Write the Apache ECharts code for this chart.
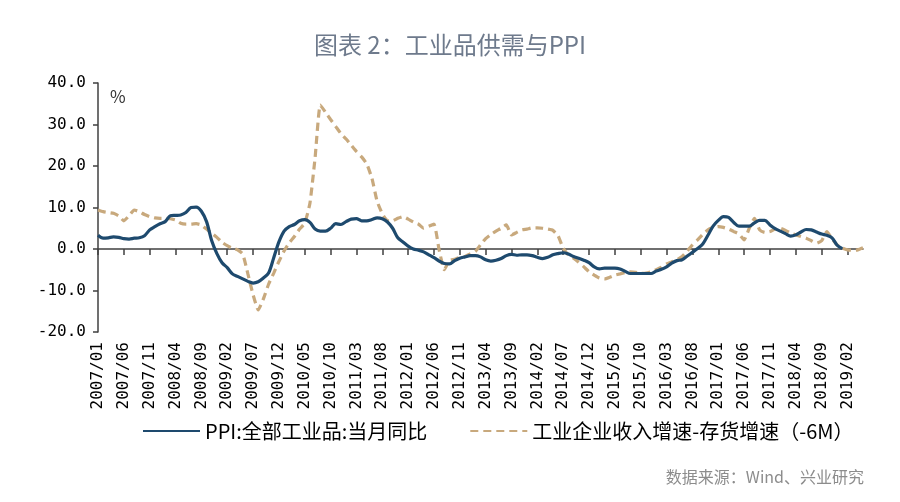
<!DOCTYPE html>
<html>
<head>
<meta charset="utf-8">
<script src="https://cdn.jsdelivr.net/npm/echarts@6/dist/echarts.min.js"></script>
<style>
html,body{margin:0;padding:0;background:#fff;}
#chart{width:900px;height:502px;}
</style>
</head>
<body>
<div id="chart"></div>
<script>
// Categories: monthly 2007/01 .. 2019/05
const startYear = 2007, monthsCount = 149;
const categories = [];
for (let i = 0; i < monthsCount; i++) {
  const y = startYear + Math.floor(i / 12), m = (i % 12) + 1;
  categories.push(y + '/' + (m < 10 ? '0' + m : m));
}
const yTicks = [-20, -10, 0, 10, 20, 30, 40];

const seriesNames = ['PPI:全部工业品:当月同比', '工业企业收入增速-存货增速（-6M）'];

// PPI y/y, 2007/01 .. 2019/01
const ppi = [
  3.3, 2.6, 2.7, 2.9, 2.8, 2.5, 2.4, 2.6, 2.7, 3.2, 4.6, 5.4,
  6.1, 6.6, 8.0, 8.1, 8.2, 8.8, 10.0, 10.1, 9.1, 6.6, 2.0, -1.1,
  -3.3, -4.5, -6.0, -6.6, -7.2, -7.8, -8.2, -7.9, -7.0, -5.8, -2.1, 1.7,
  4.3, 5.4, 5.9, 6.8, 7.1, 6.4, 4.8, 4.3, 4.3, 5.0, 6.1, 5.9,
  6.6, 7.2, 7.3, 6.8, 6.8, 7.1, 7.5, 7.3, 6.5, 5.0, 2.7, 1.7,
  0.7, 0.0, -0.3, -0.7, -1.4, -2.1, -2.9, -3.5, -3.6, -2.8, -2.2, -1.9,
  -1.6, -1.6, -1.9, -2.6, -2.9, -2.7, -2.3, -1.6, -1.3, -1.5, -1.4, -1.4,
  -1.6, -2.0, -2.3, -2.0, -1.4, -1.1, -0.9, -1.2, -1.8, -2.2, -2.7, -3.3,
  -4.3, -4.8, -4.6, -4.6, -4.6, -4.8, -5.4, -5.9, -5.9, -5.9, -5.9, -5.9,
  -5.3, -4.9, -4.3, -3.4, -2.8, -2.6, -1.7, -0.8, 0.1, 1.2, 3.3, 5.5,
  6.9, 7.8, 7.6, 6.4, 5.5, 5.5, 5.5, 6.3, 6.9, 6.9, 5.8, 4.9,
  4.3, 3.7, 3.1, 3.4, 4.1, 4.7, 4.6, 4.1, 3.6, 3.3, 2.7, 0.9,
  0.1
];

// Revenue growth minus inventory growth (lead 6M), 2007/01 .. 2019/05
const revMinusInv = [
  9.4, 9.0, 8.8, 8.6, 8.0, 6.8, 8.0, 9.4, 9.0, 8.3, 7.8, 7.5,
  7.4, 7.4, 7.3, 7.0, 6.2, 6.0, 6.0, 6.1, 5.8, 4.8, 3.8, 2.8,
  1.6, 0.8, 0.2, -0.2, -1.2, -6.0, -11.0, -14.7, -12.0, -8.5, -5.8, -3.0,
  -0.5, 1.5, 3.0, 4.8, 6.2, 11.0, 22.0, 34.7, 33.0, 31.2, 29.5, 27.8,
  26.5, 25.0, 23.5, 22.2, 20.5, 17.0, 11.5, 8.5, 6.8, 6.8, 7.4, 7.8,
  7.2, 6.5, 6.0, 5.0, 5.5, 6.0, -0.2, -5.0, -2.7, -2.5, -2.0, -1.8,
  -1.2, -0.6, 1.0, 2.5, 3.5, 4.3, 5.0, 5.8, 3.4, 4.0, 4.6, 4.8,
  5.1, 5.1, 5.0, 4.8, 4.5, 3.2, 0.2, -1.4, -2.2, -3.2, -4.3, -5.5,
  -6.3, -7.0, -7.2, -6.8, -6.3, -6.0, -5.7, -5.5, -5.6, -5.9, -5.8, -5.5,
  -5.0, -4.4, -3.6, -3.1, -2.6, -1.8, -0.5, 1.0, 2.2, 3.5, 4.6, 5.2,
  5.4, 5.2, 4.8, 4.2, 3.6, 2.2, 5.0, 7.4, 4.6, 4.0, 4.2, 4.8,
  5.0, 4.5, 3.8, 3.4, 3.0, 2.6, 2.0, 1.4, 2.0, 4.2, 2.5, 1.0,
  0.2, -0.2, -0.3, -0.2, 0.3
];

const chart = echarts.init(document.getElementById('chart'), null, {renderer: 'canvas'});
const monoFont = 'DejaVu Sans Mono';
const cjkFont = 'Noto Sans CJK SC';

chart.setOption({
  animation: false,
  backgroundColor: '#ffffff',
  title: [
    {
      text: '图表 2：工业品供需与PPI',
      left: 'center',
      top: 28,
      textStyle: {fontFamily: cjkFont, fontSize: 24, fontWeight: 'normal', color: '#6e7a8c'}
    },
    {
      text: '数据来源：Wind、兴业研究',
      right: 31,
      top: 464,
      textStyle: {fontFamily: cjkFont, fontSize: 16, fontWeight: 'normal', color: '#8c8c8c'}
    }
  ],
  legend: {
    left: 137,
    top: 416,
    itemWidth: 57,
    itemHeight: 14,
    itemGap: 42,
    itemStyle: {opacity: 0, borderWidth: 0},
    textStyle: {fontFamily: cjkFont, fontSize: 20, color: '#000'},
    data: seriesNames
  },
  grid: {left: 98, right: 37, top: 83, bottom: 170},
  xAxis: [
    {
      type: 'category',
      data: categories,
      boundaryGap: false,
      position: 'bottom',
      axisLine: {show: false, onZero: false},
      axisTick: {show: false},
      splitLine: {show: false},
      axisLabel: {interval: 4, rotate: 90, fontFamily: monoFont, fontSize: 16, color: '#000', margin: 10}
    },
    {
      type: 'category',
      data: categories,
      boundaryGap: false,
      position: 'top',
      axisLine: {show: true, onZero: true, lineStyle: {color: '#404040', width: 1.5}},
      axisTick: {show: true, inside: true, interval: 4, length: 6, lineStyle: {color: '#404040', width: 1.5}},
      axisLabel: {show: false},
      splitLine: {show: false}
    }
  ],
  yAxis: {
    type: 'value',
    min: yTicks[0],
    max: yTicks[yTicks.length - 1],
    interval: 10,
    name: '%',
    nameLocation: 'end',
    nameGap: -22,
    nameTextStyle: {fontFamily: cjkFont, fontSize: 17, color: '#333', align: 'left', padding: [0, 0, 0, 12]},
    axisLine: {show: true, lineStyle: {color: '#404040', width: 1.5}},
    axisTick: {show: true, length: 5, lineStyle: {color: '#404040', width: 1.5}},
    splitLine: {show: false},
    axisLabel: {
      fontFamily: monoFont, fontSize: 16, color: '#000', margin: 12,
      formatter: v => v.toFixed(1)
    }
  },
  series: [
    {
      name: seriesNames[0],
      type: 'line',
      xAxisIndex: 0,
      data: ppi,
      symbol: 'none',
      smooth: 0.3,
      z: 3,
      lineStyle: {color: '#1e4a6e', width: 3.2},
      itemStyle: {color: '#1e4a6e'}
    },
    {
      name: seriesNames[1],
      type: 'line',
      xAxisIndex: 0,
      data: revMinusInv,
      symbol: 'none',
      smooth: 0.15,
      z: 2,
      lineStyle: {color: '#c8a97d', width: 3.2, type: [8, 5]},
      itemStyle: {color: '#c8a97d'}
    }
  ]
});
</script>
</body>
</html>
